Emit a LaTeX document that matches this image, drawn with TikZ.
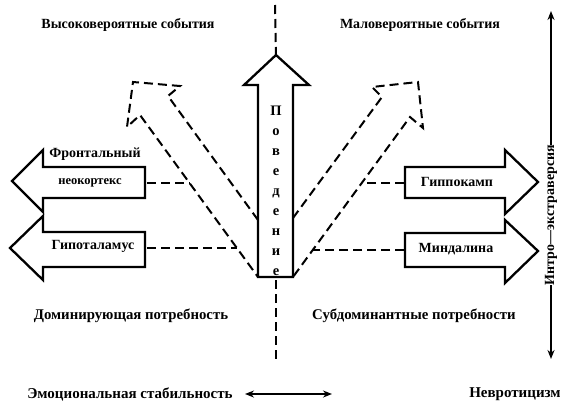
\documentclass[tikz,border=0pt]{standalone}
\usepackage{fontspec}
\setmainfont{Liberation Serif}
\usetikzlibrary{arrows.meta}
\begin{document}
\begin{tikzpicture}[x=1pt,y=-1pt,
  blockarrow/.style={draw=black,line width=2.3pt,line join=miter,fill=white},
  dasharrow/.style={draw=black,line width=2pt,dash pattern=on 9pt off 5pt},
  dashconn/.style={draw=black,line width=2pt,dash pattern=on 9pt off 5pt},
  lbl/.style={font=\bfseries\fontsize{14}{16}\selectfont,inner sep=0pt},
  lowlbl/.style={font=\bfseries\fontsize{14.8}{17}\selectfont,inner sep=0pt},
  botlbl/.style={font=\bfseries\fontsize{15}{17}\selectfont,inner sep=0pt},
  inlbl/.style={font=\bfseries\fontsize{14}{15}\selectfont,inner sep=0pt},
  smlbl/.style={font=\bfseries\fontsize{12.5}{14}\selectfont,inner sep=0pt},
  axis/.style={draw=black,line width=2pt,-{Stealth[length=9pt,width=7pt]}}]
\useasboundingbox (0,0) rectangle (564,410);
% central vertical dashed line
\coordinate (vtop) at (275,5);
\coordinate (vtip) at (276,55);
\coordinate (vbot0) at (276,280);
\coordinate (vbot) at (276,362);
\draw[dashconn] (vtop) -- (vtip);
\draw[dashconn] (vbot0) -- (vbot);
% dashed open arrows
\draw[dasharrow] (258,220) -- (168,96) -- (180,86) -- (133,82) -- (127,127) -- (140,115) -- (258,277);
\draw[dasharrow] (293,218) -- (382,97) -- (372,87) -- (418,82) -- (423,128) -- (410,117) -- (293,277);
% central arrow
\draw[blockarrow] (258,277) -- (258,85) -- (244,85) -- (276,55) -- (309,85) -- (293,85) -- (293,277) -- cycle;
\node[font=\bfseries\fontsize{14.5}{20}\selectfont,align=center,inner sep=0pt] (beh) at (276,191) {П\\о\\в\\е\\д\\е\\н\\и\\е};
% left block arrows
\draw[blockarrow] (145,167) -- (43,167) -- (43,150) -- (12,181) -- (43,212) -- (43,198) -- (145,198) -- cycle;
\draw[blockarrow] (145,232) -- (43,232) -- (43,216) -- (10,248) -- (43,280) -- (43,267) -- (145,267) -- cycle;
% right block arrows
\draw[blockarrow] (405,167) -- (505,167) -- (505,150) -- (538,182) -- (505,214) -- (505,198) -- (405,198) -- cycle;
\draw[blockarrow] (405,233) -- (505,233) -- (505,220) -- (538,251) -- (505,283) -- (505,267) -- (405,267) -- cycle;
% labels on block arrows
\node[inlbl] (front) at (95,154) {Фронтальный};
\node[smlbl] (neo) at (90,183) {неокортекс};
\node[inlbl] (hypo) at (93,246) {Гипоталамус};
\node[inlbl] (hipp) at (457,182) {Гиппокамп};
\node[inlbl] (amyg) at (456,249) {Миндалина};
% dashed connectors
\coordinate (neoR) at (147,183);
\coordinate (neoE) at (190,183);
\coordinate (hypoR) at (147,248);
\coordinate (hypoE) at (237,248);
\coordinate (hippL) at (404,183);
\coordinate (hippE) at (362,183);
\coordinate (amygL) at (404,250);
\coordinate (amygE) at (313,250);
\draw[dashconn] (neoR) -- (neoE);
\draw[dashconn] (hypoR) -- (hypoE);
\draw[dashconn] (hippL) -- (hippE);
\draw[dashconn] (amygL) -- (amygE);
% quadrant labels
\node[lbl] (q1) at (128,25) {Высоковероятные события};
\node[lbl] (q2) at (420,25) {Маловероятные события};
\node[lowlbl] (q3) at (131,316) {Доминирующая потребность};
\node[lowlbl] (q4) at (414,316) {Субдоминантные потребности};
% right axis
\node[inlbl,rotate=90] (ie) at (551,215) {Интро—экстраверсия};
\coordinate (ieTop) at (551,11);
\coordinate (ieBot) at (551,359);
\draw[axis] (ie.east) -- (ieTop);
\draw[axis] (ie.west) -- (ieBot);
% bottom axis
\node[botlbl] (emo) at (130,394) {Эмоциональная стабильность};
\node[botlbl] (nev) at (515,394) {Невротицизм};
\coordinate (bL) at (245,394);
\coordinate (bR) at (332,394);
\draw[draw=black,line width=2pt,{Stealth[length=9pt,width=7pt]}-{Stealth[length=9pt,width=7pt]}] (bL) -- (bR);
\end{tikzpicture}
\end{document}
